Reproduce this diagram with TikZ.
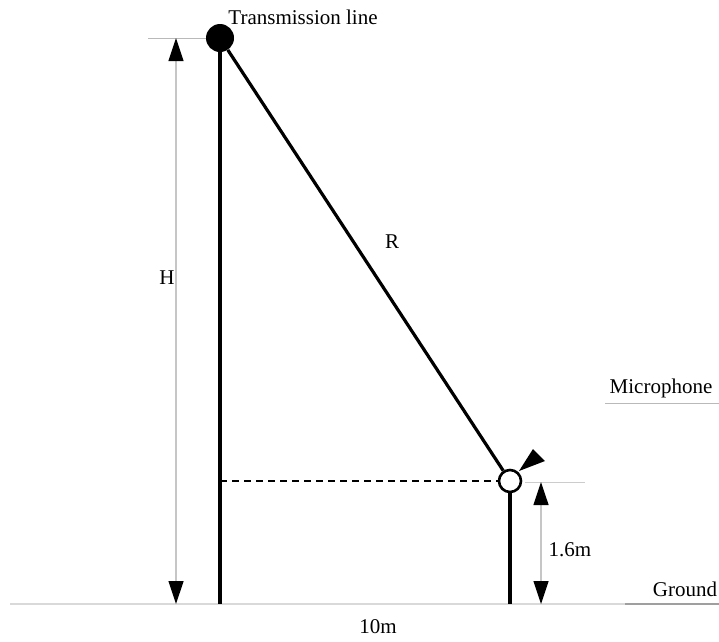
\documentclass[tikz,border=0pt]{standalone}
\usepackage{fontspec}
\setmainfont{Liberation Serif}
\usetikzlibrary{arrows.meta}
\begin{document}
\begin{tikzpicture}[x=1pt,y=-1pt,
  pole/.style={line width=3.2pt,black},
  dimline/.style={gray!45,line width=1.2pt,{Triangle[length=23pt,width=15pt,color=black]}-{Triangle[length=23pt,width=15pt,color=black]}},
  guide/.style={gray!55,line width=1pt},
  lbl/.style={font=\fontsize{21}{25}\selectfont,inner sep=0pt}]
\useasboundingbox (0,0) rectangle (719,641);
% nodes
\node[circle,fill=black,minimum size=28pt,inner sep=0pt] (tl) at (220,38) {};
\node[circle,draw=black,line width=2.6pt,fill=white,minimum size=22pt,inner sep=0pt] (mic) at (510,481) {};
\coordinate (g1) at (220,604);
\coordinate (g2) at (510,604);
\coordinate (d1) at (220,481);
\coordinate (htop) at (176,38);
\coordinate (hbot) at (176,604);
\coordinate (mtop) at (541,482);
\coordinate (mbot) at (541,604);
% ground and guides
\draw[gray!30,line width=1.2pt] (10,604) -- (625,604);
\draw[gray!75,line width=1.5pt] (625,604) -- (719,604);
\draw[guide] (148,38) -- (206,38);
\draw[guide,gray!40] (525,482) -- (585,482);
\draw[guide] (605,403) -- (719,403);
% poles and lines
\draw[pole] (tl.south) -- (g1);
\draw[pole] (tl) -- (mic);
\draw[pole] (mic.south) -- (g2);
\draw[black,line width=2pt,dash pattern=on 7pt off 5pt] (d1) -- (mic.west);
\fill[black] (519,471) -- (533,449) -- (545,461) -- cycle;
% dimensions
\draw[dimline] (htop) -- (hbot);
\draw[dimline] (mtop) -- (mbot);
% labels
\node[lbl] (tlt) at (303,17) {Transmission line};
\node[lbl] (rl) at (392,242) {R};
\node[lbl] (hl) at (167,278) {H};
\node[lbl] (ml) at (661,388) {Microphone};
\node[lbl] (h16) at (570,550) {1.6m};
\node[lbl] (gl) at (685,589) {Ground};
\node[lbl] (tenm) at (378,627) {10m};
\end{tikzpicture}
\end{document}
